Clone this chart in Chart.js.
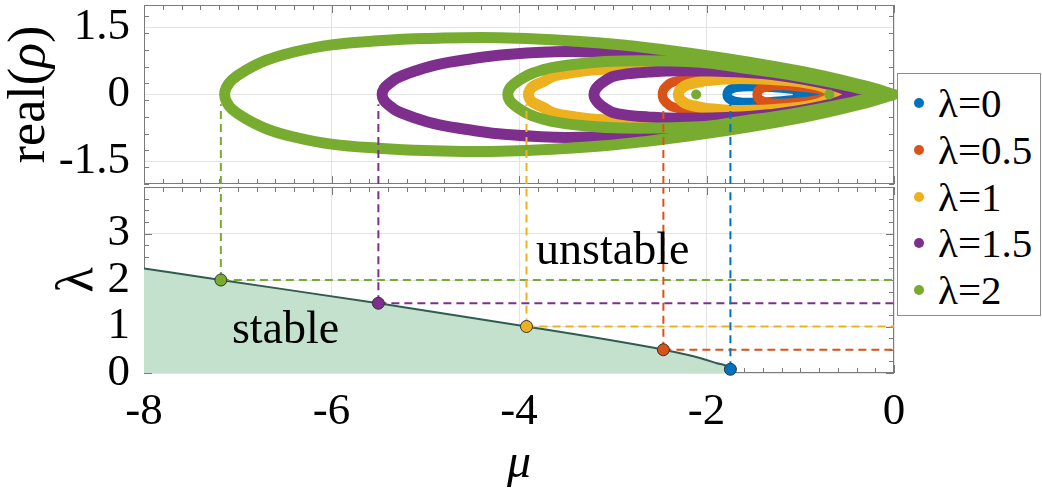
<!DOCTYPE html>
<html>
<head>
<meta charset="utf-8">
<script src="https://cdn.jsdelivr.net/npm/chart.js@4.4.0/dist/chart.umd.min.js"></script>
<style>
  body { margin: 0; background: #fff; }
  #wrap { position: relative; width: 1042px; height: 495px; overflow: hidden; background: #fff; }
  #wrap canvas { position: absolute; left: 0; }
  #bottomChart { top: 180px; }
  #topChart { top: 0; }
  #legend {
    position: absolute; left: 897px; top: 73px; width: 144px; height: 243px;
    box-sizing: border-box; border: 1px solid #8c8c8c; background: #fff;
    font-family: 'Liberation Serif', serif; font-size: 41px; color: #000;
    padding-top: 6px;
  }
  #legend .row { position: relative; height: 46.75px; line-height: 46.75px; padding-left: 40px; white-space: nowrap; }
  #legend .dot { position: absolute; left: 16px; top: 18px; width: 10px; height: 10px; border-radius: 50%; }
</style>
</head>
<body>
<div id="wrap">
  <canvas id="bottomChart" width="1042" height="315"></canvas>
  <canvas id="topChart" width="1042" height="190"></canvas>
  <div id="legend"></div>
</div>
<script>
// values

const muTicks = [-8, -6, -4, -2, 0];
const rhoTicks = [-1.5, 0, 1.5];
const lamTicks = [0, 1, 2, 3];

const seriesNames = ['λ=0', 'λ=0.5', 'λ=1', 'λ=1.5', 'λ=2'];
const seriesColors = ['#0072BD', '#D95319', '#EDB120', '#7E2F8E', '#77AC30'];
const lambdaValues = [0, 0.5, 1, 1.5, 2];

// dots on the stability boundary
const critMu = [-1.745, -2.46, -3.92, -5.5, -7.18];
const critLam = [0.08, 0.5, 1.0, 1.5, 2.0];

// stability boundary (bottom panel)
const boundaryMu = [-8, -7.18, -5.5, -3.92, -2.46, -2.1, -1.89, -1.745, -1.73];
const boundaryLam = [2.25, 2.0, 1.5, 1.0, 0.5, 0.34, 0.21, 0.08, 0];

// upper halves of the real(rho) loops, [mu, rho], left tip -> right tip
const blueLoopA = [[-1.78, 0], [-1.77, 0.07], [-1.74, 0.12], [-1.68, 0.16], [-1.55, 0.18], [-1.3, 0.16], [-1.0, 0.1], [-0.75, 0]];
const blueLoopB = [[-1.03, 0], [-1.015, 0.04], [-0.95, 0.07], [-0.85, 0.07], [-0.75, 0.04], [-0.7, 0]];
const redLoopA = [[-2.47, 0], [-2.46, 0.1], [-2.43, 0.18], [-2.38, 0.26], [-2.3, 0.31], [-2.2, 0.34], [-1.9, 0.37], [-1.4, 0.32], [-0.9, 0.18], [-0.6, 0]];
const redLoopB = [[-1.46, 0], [-1.45, 0.08], [-1.42, 0.13], [-1.36, 0.18], [-1.2, 0.2], [-0.9, 0.15], [-0.75, 0.09], [-0.62, 0]];
const yellowLoopA = [[-3.9, 0], [-3.885, 0.1], [-3.85, 0.18], [-3.75, 0.28], [-3.62, 0.42], [-3.4, 0.5], [-3.2, 0.55], [-2.7, 0.6], [-2.0, 0.55], [-1.4, 0.45], [-0.8, 0.25], [-0.28, 0]];
const yellowLoopB = [[-2.3, 0], [-2.29, 0.08], [-2.26, 0.15], [-2.2, 0.22], [-2.1, 0.27], [-2.0, 0.31], [-1.64, 0.36], [-1.13, 0.31], [-0.8, 0.2], [-0.6, 0]];
const purpleLoopA = [[-5.46, 0], [-5.44, 0.13], [-5.38, 0.25], [-5.3, 0.37], [-5.1, 0.53], [-4.87, 0.67], [-4.5, 0.8], [-4.16, 0.89], [-3.49, 0.96], [-2.78, 0.9], [-2.35, 0.83], [-1.7, 0.66], [-1.21, 0.5], [-0.5, 0.2], [-0.3, 0]];
const purpleLoopB = [[-3.2, 0], [-3.19, 0.09], [-3.15, 0.2], [-3.08, 0.31], [-3.0, 0.4], [-2.85, 0.46], [-2.63, 0.5], [-2.3, 0.53], [-1.64, 0.5], [-1.2, 0.42], [-0.68, 0.22], [-0.39, 0]];
const greenLoopA = [[-7.14, 0], [-7.12, 0.16], [-7.06, 0.33], [-6.93, 0.52], [-6.7, 0.76], [-6.4, 0.95], [-6.0, 1.11], [-5.5, 1.2], [-5.0, 1.25], [-4.2, 1.27], [-3.13, 1.15], [-2.07, 0.89], [-1.0, 0.52], [-0.29, 0.18], [0, 0]];
const greenLoopB = [[-4.12, 0], [-4.1, 0.13], [-4.05, 0.24], [-3.95, 0.38], [-3.85, 0.48], [-3.65, 0.6], [-3.3, 0.7], [-2.9, 0.75], [-2.07, 0.72], [-1.64, 0.6], [-1.13, 0.45], [-0.5, 0.2], [-0.1, 0]];
const greenRingMu = [-2.11, -0.69];

const loopsBySeries = [
    [blueLoopA, blueLoopB],
    [redLoopA, redLoopB],
    [yellowLoopA, yellowLoopB],
    [purpleLoopA, purpleLoopB],
    [greenLoopA, greenLoopB]
];

const dashTopRho = -0.22; // where the vertical guides stop in the top panel

const annotTexts = ['stable', 'unstable'];
const annotMu = [-6.49, -3.0];
const annotLam = [0.64, 2.34];

// layout / style
const SERIF = "'Liberation Serif', 'Times New Roman', serif";
const GRID = '#e4e4e4';
const FRAME = '#7a7a7a';
const INK = '#000';
const PLOT_LEFT = 144;
const PLOT_RIGHT_PAD = 148;

// start at the right tip, run along the upper branch, round the left tip, back along the mirror image
const closeLoop = (upper) => {
    const top = upper.slice().reverse().map(([x, y]) => ({ x, y }));
    const low = upper.slice(1).map(([x, y]) => ({ x, y: -y }));
    return top.concat(low);
};

const fixedTicks = (values) => (scale) => {
    scale.ticks = values.map(v => ({ value: v }));
};

// keep the plot box where it is in the figure, whatever the label sizes
const fitY = (s) => { s.width = PLOT_LEFT; s.paddingTop = 0; s.paddingBottom = 0; };
const fitX = (h) => (s) => { s.height = h; s.paddingLeft = 0; s.paddingRight = 0; };

// box with inward minor ticks on all four sides, like the matlab axes
const framePlugin = {
    id: 'frame',
    beforeDatasetsDraw(chart, args, opts) {
        const { ctx, chartArea: a, scales: { x, y } } = chart;
        ctx.save();
        ctx.strokeStyle = FRAME;
        ctx.lineWidth = 1;
        ctx.beginPath();
        const nx = Math.round((x.max - x.min) / opts.xStep);
        for (let k = 0; k <= nx; k++) {
            const v = x.min + k * opts.xStep;
            const px = Math.round(x.getPixelForValue(v)) + 0.5;
            const len = muTicks.some(t => Math.abs(t - v) < 1e-6) ? 8 : 5;
            ctx.moveTo(px, a.top); ctx.lineTo(px, a.top + len);
            ctx.moveTo(px, a.bottom); ctx.lineTo(px, a.bottom - len);
        }
        const ny = Math.round((y.max - y.min) / opts.yStep);
        for (let k = 0; k <= ny; k++) {
            const v = y.min + k * opts.yStep;
            const py = Math.round(y.getPixelForValue(v)) + 0.5;
            const len = opts.yMajor.some(t => Math.abs(t - v) < 1e-6) ? 8 : 5;
            ctx.moveTo(a.left, py); ctx.lineTo(a.left + len, py);
            ctx.moveTo(a.right, py); ctx.lineTo(a.right - len, py);
        }
        ctx.stroke();
        ctx.strokeRect(Math.round(a.left) + 0.5, Math.round(a.top) + 0.5,
            Math.round(a.right - a.left) - 1, Math.round(a.bottom - a.top) - 1);
        ctx.restore();
    }
};

// free text inside the lower panel
const annotPlugin = {
    id: 'annot',
    afterDatasetsDraw(chart, args, opts) {
        if (!opts.show) return;
        const { ctx, scales: { x, y } } = chart;
        ctx.save();
        ctx.fillStyle = INK;
        ctx.font = '46px ' + SERIF;
        ctx.textAlign = 'center';
        ctx.textBaseline = 'alphabetic';
        annotTexts.forEach((t, i) => {
            ctx.fillText(t, x.getPixelForValue(annotMu[i]), y.getPixelForValue(annotLam[i]));
        });
        ctx.restore();
    }
};

// "real(ρ)" with an italic rho
const rhoTitlePlugin = {
    id: 'rhoTitle',
    afterDraw(chart, args, opts) {
        if (!opts.show) return;
        const { ctx, chartArea: a } = chart;
        const parts = [['real(', 'normal'], ['ρ', 'italic'], [')', 'normal']];
        ctx.save();
        ctx.translate(30, (a.top + a.bottom) / 2);
        ctx.rotate(-Math.PI / 2);
        ctx.fillStyle = INK;
        ctx.textBaseline = 'middle';
        ctx.textAlign = 'left';
        let total = 0;
        parts.forEach(([t, s]) => { ctx.font = s + ' 52px ' + SERIF; total += ctx.measureText(t).width; });
        let cx = -total / 2;
        parts.forEach(([t, s]) => {
            ctx.font = s + ' 52px ' + SERIF;
            ctx.fillText(t, cx, 0);
            cx += ctx.measureText(t).width;
        });
        ctx.restore();
    }
};

const tickFont = { family: SERIF, size: 45 };

// top panel: real(rho) loops
const setupTopChart = () => {
    const datasets = [];

    loopsBySeries.forEach((loops, i) => {
        loops.forEach(upper => {
            datasets.push({
                data: closeLoop(upper),
                borderColor: seriesColors[i],
                borderWidth: i < 2 ? 9.5 : 11,
                tension: 0.4,
                pointRadius: 0,
                fill: false,
                borderJoinStyle: 'round',
                borderCapStyle: 'round',
                clip: false,
                order: 10 - i
            });
        });
    });

    datasets.push({
        data: greenRingMu.map(m => ({ x: m, y: 0 })),
        showLine: false,
        pointRadius: 5,
        pointBackgroundColor: seriesColors[4],
        pointBorderWidth: 0,
        order: 1
    });

    critMu.forEach((m, i) => {
        datasets.push({
            data: [{ x: m, y: -2 }, { x: m, y: dashTopRho }],
            borderColor: seriesColors[i],
            borderWidth: 2,
            borderDash: [8, 5],
            pointRadius: 0,
            order: 0
        });
    });

    new Chart(document.getElementById('topChart'), {
        type: 'line',
        data: { datasets },
        options: {
            responsive: false,
            animation: false,
            layout: { padding: { left: 0, right: PLOT_RIGHT_PAD, top: 4, bottom: 6 } },
            plugins: {
                legend: { display: false },
                tooltip: { enabled: false },
                frame: { xStep: 0.2, yStep: 0.375, yMajor: rhoTicks },
                rhoTitle: { show: true },
                annot: { show: false }
            },
            scales: {
                x: {
                    type: 'linear', min: -8, max: 0,
                    afterBuildTicks: fixedTicks(muTicks),
                    afterFit: fitX(0),
                    ticks: { display: false },
                    grid: { color: GRID, drawTicks: false },
                    border: { display: false }
                },
                y: {
                    type: 'linear', min: -2, max: 2,
                    afterBuildTicks: fixedTicks(rhoTicks),
                    afterFit: fitY,
                    ticks: { font: tickFont, color: INK, padding: 14, autoSkip: false, callback: v => String(v) },
                    grid: { color: GRID, drawTicks: false },
                    border: { display: false }
                }
            }
        },
        plugins: [framePlugin, rhoTitlePlugin, annotPlugin]
    });
};

// bottom panel: stability region in the (mu, lambda) plane
const setupBottomChart = () => {
    const datasets = [];

    datasets.push({
        data: boundaryMu.map((m, k) => ({ x: m, y: boundaryLam[k] })),
        borderColor: '#2f5d50',
        borderWidth: 2,
        backgroundColor: 'rgb(196, 225, 206)',
        fill: 'origin',
        cubicInterpolationMode: 'monotone',
        pointRadius: 0,
        order: 5
    });

    critMu.forEach((m, i) => {
        if (lambdaValues[i] > 0) {
            datasets.push({
                data: [{ x: m, y: critLam[i] }, { x: 0, y: critLam[i] }],
                borderColor: seriesColors[i],
                borderWidth: 2,
                borderDash: [8, 5],
                pointRadius: 0,
                order: 2
            });
        }
        datasets.push({
            data: [{ x: m, y: critLam[i] }, { x: m, y: 4 }],
            borderColor: seriesColors[i],
            borderWidth: 2,
            borderDash: [8, 5],
            pointRadius: 0,
            order: 2
        });
    });

    datasets.push({
        data: critMu.map((m, i) => ({ x: m, y: critLam[i] })),
        showLine: false,
        pointRadius: 6,
        pointBackgroundColor: seriesColors,
        pointBorderColor: '#333',
        pointBorderWidth: 1,
        clip: false,
        order: 0
    });

    new Chart(document.getElementById('bottomChart'), {
        type: 'line',
        data: { datasets },
        options: {
            responsive: false,
            animation: false,
            layout: { padding: { left: 0, right: PLOT_RIGHT_PAD, top: 4, bottom: 0 } },
            plugins: {
                legend: { display: false },
                tooltip: { enabled: false },
                frame: { xStep: 0.2, yStep: 0.25, yMajor: lamTicks },
                rhoTitle: { show: false },
                annot: { show: true }
            },
            scales: {
                x: {
                    type: 'linear', min: -8, max: 0,
                    afterBuildTicks: fixedTicks(muTicks),
                    afterFit: fitX(122),
                    ticks: { font: tickFont, color: INK, padding: 12, autoSkip: false, maxRotation: 0, callback: v => String(v) },
                    grid: { color: GRID, drawTicks: false },
                    border: { display: false },
                    title: {
                        display: true, text: 'μ', color: INK,
                        font: { family: SERIF, size: 48, style: 'italic' },
                        padding: { top: 0, bottom: 2 }
                    }
                },
                y: {
                    type: 'linear', min: 0, max: 4,
                    afterBuildTicks: fixedTicks(lamTicks),
                    afterFit: fitY,
                    ticks: { font: tickFont, color: INK, padding: 14, autoSkip: false, callback: v => String(v) },
                    grid: { color: GRID, drawTicks: false },
                    border: { display: false },
                    title: {
                        display: true, text: 'λ', color: INK,
                        font: { family: SERIF, size: 52 },
                        padding: { top: 47, bottom: 0 }
                    }
                }
            }
        },
        plugins: [framePlugin, rhoTitlePlugin, annotPlugin]
    });
};

// legend box on the right
const setupLegend = () => {
    const box = document.getElementById('legend');
    seriesNames.forEach((name, i) => {
        const row = document.createElement('div');
        row.className = 'row';
        const dot = document.createElement('span');
        dot.className = 'dot';
        dot.style.background = seriesColors[i];
        row.appendChild(dot);
        row.appendChild(document.createTextNode(name));
        box.appendChild(row);
    });
};

setupBottomChart();
setupTopChart();
setupLegend();
</script>
</body>
</html>
